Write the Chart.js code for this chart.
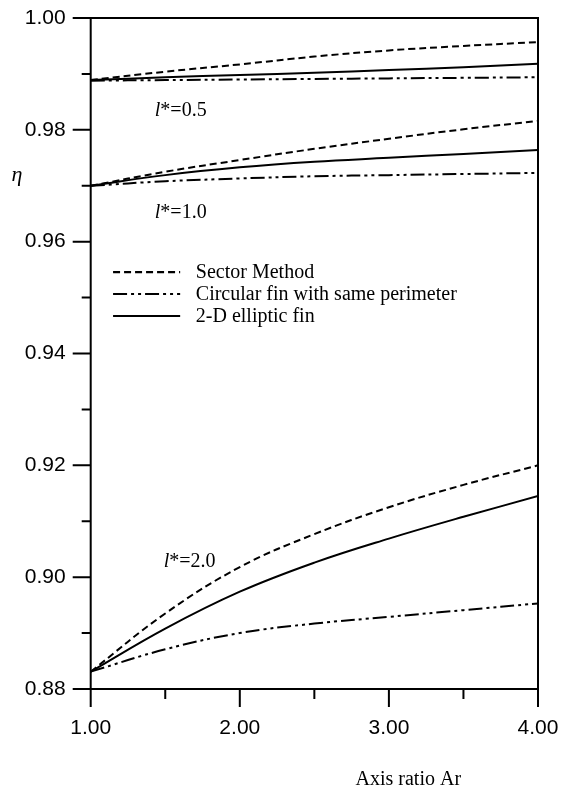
<!DOCTYPE html>
<html>
<head>
<meta charset="utf-8">
<script src="https://cdn.jsdelivr.net/npm/chart.js@4/dist/chart.umd.min.js"></script>
<style>
html,body{margin:0;padding:0;background:#fff;}
#wrap{position:relative;width:564px;height:787px;}
</style>
</head>
<body>
<div id="wrap"><canvas id="c" width="564" height="787"></canvas></div>
<script>
// ---- data ----
const axisRatio = [1.0, 1.5, 2.0, 2.5, 3.0, 3.5, 4.0];

const sector05   = [0.9889, 0.9904, 0.9917, 0.9931, 0.9942, 0.9950, 0.9957];
const circular05 = [0.9888, 0.9889, 0.9890, 0.9891, 0.9892, 0.9893, 0.9894];
const elliptic05 = [0.9889, 0.9894, 0.9898, 0.9902, 0.9907, 0.9912, 0.9918];

const sector10   = [0.9700, 0.9725, 0.9746, 0.9766, 0.9784, 0.9801, 0.9816];
const circular10 = [0.9700, 0.9708, 0.9713, 0.9717, 0.9719, 0.9721, 0.9723];
const elliptic10 = [0.9700, 0.9719, 0.9733, 0.9743, 0.9750, 0.9757, 0.9764];

const sector20   = [0.8831, 0.8935, 0.9018, 0.9077, 0.9125, 0.9165, 0.9200];
const circular20 = [0.8831, 0.8871, 0.8900, 0.8917, 0.8929, 0.8941, 0.8953];
const elliptic20 = [0.8831, 0.8908, 0.8974, 0.9026, 0.9069, 0.9108, 0.9145];

const xMajorTicks = [1, 2, 3, 4];
const xMinorTicks = [1.5, 2.5, 3.5];
const yMajorTicks = [0.88, 0.90, 0.92, 0.94, 0.96, 0.98, 1.00];
const yMinorTicks = [0.89, 0.91, 0.93, 0.95, 0.97, 0.99];

const legendLabels = ['Sector Method', 'Circular fin with same perimeter', '2-D elliptic fin'];
const curveLabels = ['0.5', '1.0', '2.0'];
const curveLabelAnchors = [[1.43, 0.98247], [1.43, 0.96418], [1.49, 0.90185]];
const legendAnchorsY = [0.95457, 0.95064, 0.94671];
const legendLineX = [1.15, 1.60];
const legendTextX = 1.705;

const xTitle = 'Axis ratio Ar';
const yTitle = 'η';

// ---- styles ----
const DASHED = [7, 4];
const DASHDOT = [14, 4, 3, 4, 3, 4];
const SOLID = [];
const styleFor = [DASHED, DASHDOT, SOLID];

function pts(arr) { return axisRatio.map((x, i) => ({x: x, y: arr[i]})); }
function ds(arr, dash) {
  return {
    data: pts(arr), borderColor: '#000', borderWidth: 2, borderDash: dash,
    pointRadius: 0, fill: false, tension: 0.4
  };
}

const datasets = [
  ds(sector05, DASHED), ds(circular05, DASHDOT), ds(elliptic05, SOLID),
  ds(sector10, DASHED), ds(circular10, DASHDOT), ds(elliptic10, SOLID),
  ds(sector20, DASHED), ds(circular20, DASHDOT), ds(elliptic20, SOLID)
];

const SERIF = '"Liberation Serif", "Times New Roman", serif';

const decor = {
  id: 'decor',
  afterDraw(chart) {
    const ctx = chart.ctx;
    const a = chart.chartArea;
    const xs = chart.scales.x, ys = chart.scales.y;
    ctx.save();
    ctx.strokeStyle = '#000';
    ctx.lineWidth = 2;
    ctx.setLineDash([]);
    // frame
    ctx.strokeRect(a.left, a.top, a.right - a.left, a.bottom - a.top);
    // ticks
    ctx.beginPath();
    yMajorTicks.forEach(v => { const y = ys.getPixelForValue(v); ctx.moveTo(a.left - 18, y); ctx.lineTo(a.left, y); });
    yMinorTicks.forEach(v => { const y = ys.getPixelForValue(v); ctx.moveTo(a.left - 9, y); ctx.lineTo(a.left, y); });
    xMajorTicks.forEach(v => { const x = xs.getPixelForValue(v); ctx.moveTo(x, a.bottom); ctx.lineTo(x, a.bottom + 18); });
    xMinorTicks.forEach(v => { const x = xs.getPixelForValue(v); ctx.moveTo(x, a.bottom); ctx.lineTo(x, a.bottom + 10); });
    ctx.stroke();

    ctx.fillStyle = '#000';
    ctx.textBaseline = 'alphabetic';
    // curve labels
    curveLabels.forEach((t, i) => {
      let x = xs.getPixelForValue(curveLabelAnchors[i][0]);
      const y = ys.getPixelForValue(curveLabelAnchors[i][1]);
      ctx.font = 'italic 20px ' + SERIF;
      ctx.textAlign = 'left';
      ctx.fillText('l', x, y);
      x += ctx.measureText('l').width;
      ctx.font = '20px ' + SERIF;
      ctx.fillText('*=' + t, x, y);
    });
    // legend
    const lx0 = xs.getPixelForValue(legendLineX[0]);
    const lx1 = xs.getPixelForValue(legendLineX[1]);
    const tx = xs.getPixelForValue(legendTextX);
    ctx.font = '20px ' + SERIF;
    ctx.textBaseline = 'middle';
    legendLabels.forEach((t, i) => {
      const y = ys.getPixelForValue(legendAnchorsY[i]);
      ctx.beginPath();
      ctx.lineWidth = 2.2;
      ctx.setLineDash(styleFor[i]);
      ctx.moveTo(lx0, y); ctx.lineTo(lx1, y);
      ctx.stroke();
      ctx.setLineDash([]);
      ctx.fillText(t, tx, y + 1);
    });
    // axis titles
    ctx.textBaseline = 'alphabetic';
    ctx.textAlign = 'center';
    ctx.font = '20px ' + SERIF;
    ctx.fillText(xTitle, a.left + (a.right - a.left) * 0.71, chart.height - 2);
    ctx.font = 'italic 22px ' + SERIF;
    ctx.fillText(yTitle, 17, ys.getPixelForValue(0.9717) + 5);
    ctx.restore();
  }
};

new Chart(document.getElementById('c'), {
  type: 'line',
  data: { datasets },
  options: {
    responsive: false,
    animation: false,
    layout: { padding: { top: 18, right: 26, left: 0, bottom: 0 } },
    plugins: { legend: { display: false }, tooltip: { enabled: false } },
    scales: {
      x: {
        type: 'linear', min: 1, max: 4,
        grid: { display: false, drawTicks: false },
        border: { display: false },
        afterBuildTicks(s) { s.ticks = xMajorTicks.map(v => ({value: v})); },
        afterFit(s) { s.height = 98; s.paddingLeft = 0; s.paddingRight = 0; },
        ticks: {
          color: '#000', padding: 27, maxRotation: 0,
          font: { family: '"Liberation Sans", Arial, sans-serif', size: 21 },
          callback: v => Number(v).toFixed(2)
        }
      },
      y: {
        type: 'linear', min: 0.88, max: 1.00,
        grid: { display: false, drawTicks: false },
        border: { display: false },
        afterBuildTicks(s) { s.ticks = yMajorTicks.map(v => ({value: v})); },
        afterFit(s) { s.width = 90.7; s.paddingTop = 0; s.paddingBottom = 0; },
        ticks: {
          color: '#000', padding: 25,
          font: { family: '"Liberation Sans", Arial, sans-serif', size: 21 },
          callback: v => Number(v).toFixed(2)
        }
      }
    }
  },
  plugins: [decor]
});
</script>
</body>
</html>
